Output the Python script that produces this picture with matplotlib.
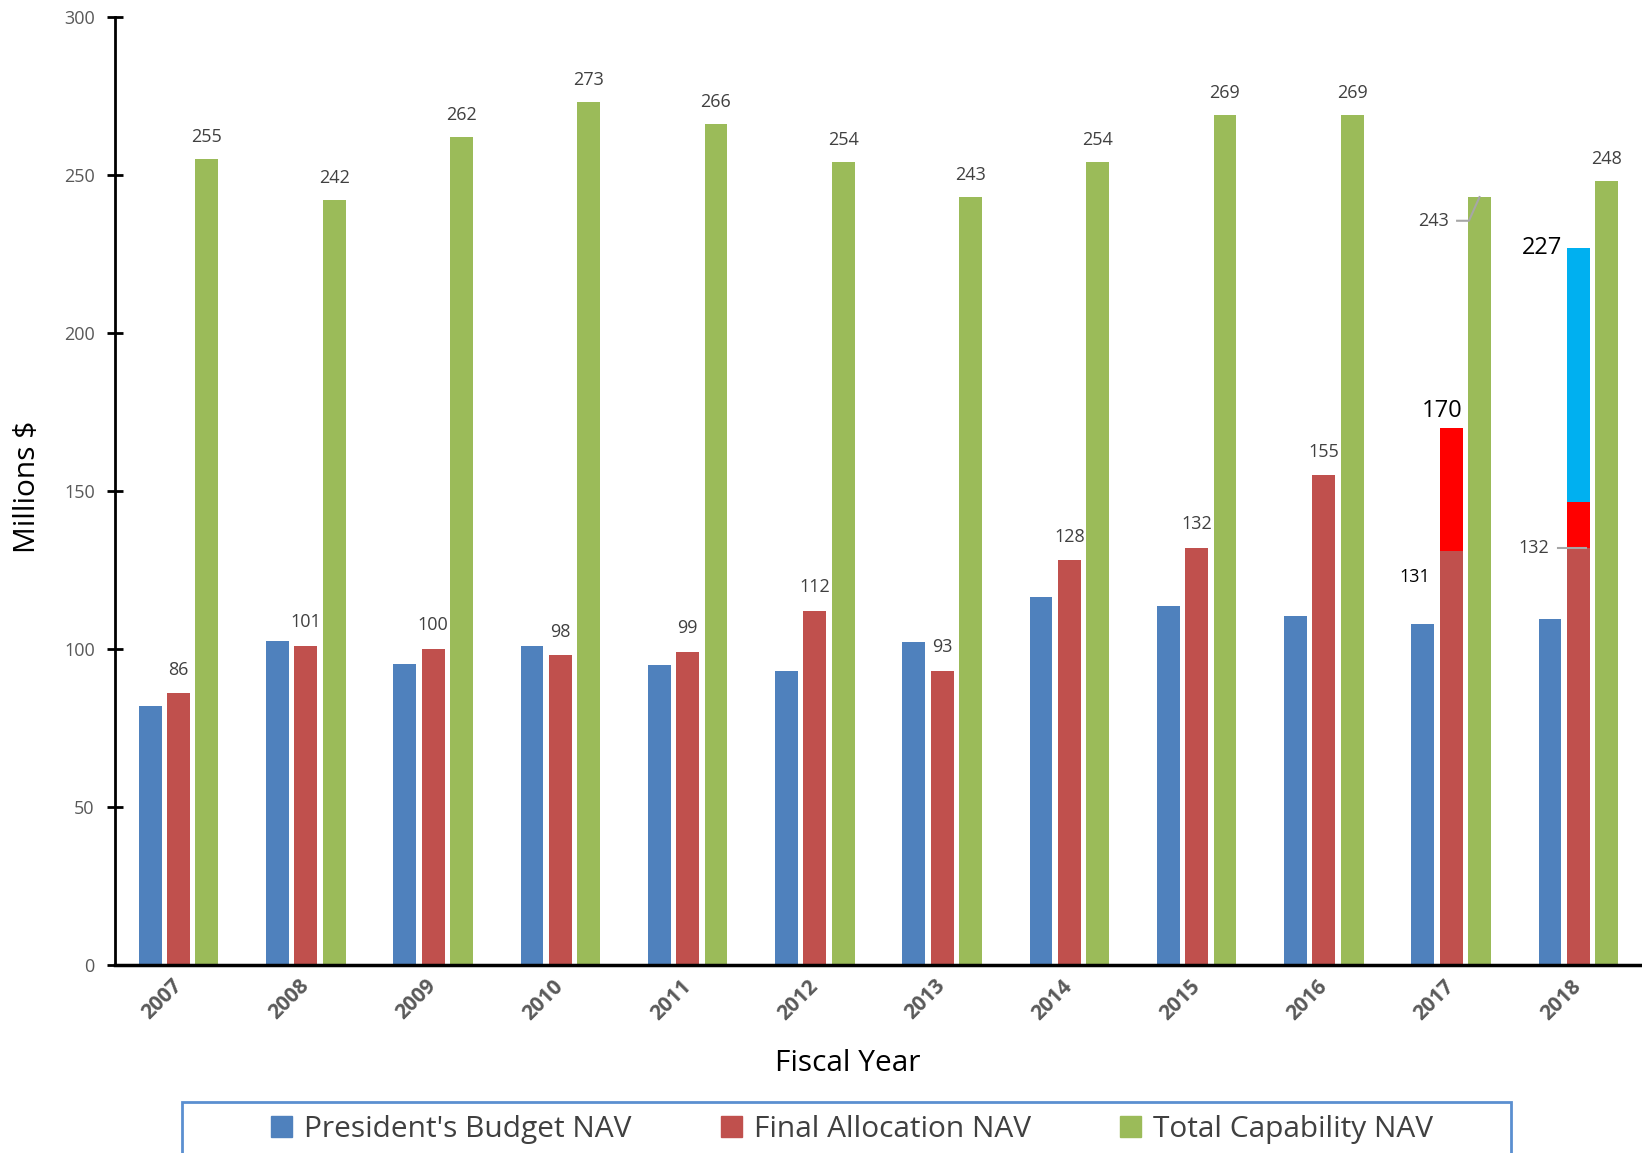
'''
NAV funding by fiscal year: President's budget, final allocation and total capability
'''

import numpy as np
import matplotlib
matplotlib.use('Agg')
from matplotlib import pyplot
from matplotlib.patches import Rectangle, Patch

pyplot.rcParams['font.family'] = ['Open Sans', 'DejaVu Sans']

years = ['2007', '2008', '2009', '2010', '2011', '2012',
         '2013', '2014', '2015', '2016', '2017', '2018']
presidents_budget = [82, 102.6, 95.3, 101, 95, 93, 102.3, 116.5, 113.5, 110.5, 108, 109.6]
final_allocation = [86, 101, 100, 98, 99, 112, 93, 128, 132, 155, 131, 132]
total_capability = [255, 242, 262, 273, 266, 254, 243, 254, 269, 269, 243, 248]

# extra increments stacked on the final allocation bars of the last two years
fy17_increase_top = 170
fy18_increase_top = 146.4
fy18_request_top = 227

blue = '#4F81BD'
red = '#C0504D'
green = '#9BBB59'
label_color = '#404040'
tick_color = '#595959'
leader_color = '#A6A6A6'

ind = np.arange(len(years))
bar_width = 0.18
step = 0.223

fig = pyplot.figure(figsize=(16.42, 11.53), dpi=100)
ax = fig.add_axes([0.070, 0.1631, 0.930, 0.8222])

ax.bar(ind - step, presidents_budget, width=bar_width, color=blue, linewidth=0)
ax.bar(ind, final_allocation, width=bar_width, color=red, linewidth=0)
ax.bar(ind + step, total_capability, width=bar_width, color=green, linewidth=0)

# FY2017 / FY2018 increments
ax.bar(ind[10], fy17_increase_top - final_allocation[10], bottom=final_allocation[10],
       width=bar_width, color='#FF0000', linewidth=0)
ax.bar(ind[11], fy18_increase_top - final_allocation[11], bottom=final_allocation[11],
       width=bar_width, color='#FF0000', linewidth=0)
ax.bar(ind[11], fy18_request_top - fy18_increase_top, bottom=fy18_increase_top,
       width=bar_width, color='#00B0F0', linewidth=0)

# value labels above bars
for i in range(len(years)):
    if i < 10:
        ax.annotate(str(final_allocation[i]), (ind[i], final_allocation[i]),
                    xytext=(0, 17), textcoords='offset points', ha='center', va='center',
                    fontsize=13, color=label_color)
    if i != 10:
        ax.annotate(str(total_capability[i]), (ind[i] + step, total_capability[i]),
                    xytext=(0, 16), textcoords='offset points', ha='center', va='center',
                    fontsize=13, color=label_color)

# FY2017 labels
ax.text(ind[10] - 0.165, 122.8, str(final_allocation[10]), ha='right', va='center',
        fontsize=13, color='black')
ax.annotate(str(fy17_increase_top), (ind[10] - 0.07, fy17_increase_top),
            xytext=(0, 12), textcoords='offset points', ha='center', va='center',
            fontsize=17, color='black')
ax.plot([ind[10] + 0.047, ind[10] + 0.14, ind[10] + step],
        [235.5, 235.5, total_capability[10]], color=leader_color, linewidth=1.5)
ax.text(ind[10] - 0.02, 235.5, str(total_capability[10]), ha='right', va='center',
        fontsize=13, color=label_color)

# FY2018 labels
ax.plot([ind[11] - 0.157, ind[11] + 0.06], [final_allocation[11], final_allocation[11]],
        color=leader_color, linewidth=1.5)
ax.text(ind[11] - 0.227, final_allocation[11], str(final_allocation[11]), ha='right',
        va='center', fontsize=13, color=label_color)
ax.text(ind[11] - 0.13, fy18_request_top, str(fy18_request_top), ha='right', va='center',
        fontsize=17, color='black')

ax.set_xlim(-0.5, 11.5)
ax.set_ylim(0, 300)
ax.set_yticks(np.arange(0, 301, 50))
ax.set_xticks(ind)
ax.set_xticklabels(years, rotation=45, ha='right', va='center', rotation_mode='anchor',
                   fontsize=15, fontweight='bold', color=tick_color)
ax.tick_params(axis='x', length=0, pad=13)
ax.tick_params(axis='y', direction='inout', length=11, width=2, pad=9,
               labelsize=13, labelcolor=tick_color)
for side in ['top', 'right']:
    ax.spines[side].set_visible(False)
ax.spines['left'].set_linewidth(2)
ax.spines['bottom'].set_linewidth(2.5)

fig.text(0.516, 0.0772, 'Fiscal Year', ha='center', va='center', fontsize=21.5)
fig.text(0.017, 0.578, 'Millions $', ha='center', va='center', rotation=90, fontsize=21.5)

# legend with a box running off the bottom edge
fig.patches.append(Rectangle((0.1108, -0.05), 0.8094, 0.0942, transform=fig.transFigure,
                             fill=False, edgecolor='#5B8FD0', linewidth=2))
handles = [Patch(color=blue), Patch(color=red), Patch(color=green)]
fig.legend(handles, ["President's Budget NAV", 'Final Allocation NAV', 'Total Capability NAV'],
           loc='center', bbox_to_anchor=(0.519, 0.0208), ncol=3, frameon=False,
           fontsize=21.5, handlelength=0.7, handleheight=0.7, handletextpad=0.4,
           columnspacing=3.0, labelcolor=label_color)

pyplot.savefig('out.png', format='png', dpi=100)
